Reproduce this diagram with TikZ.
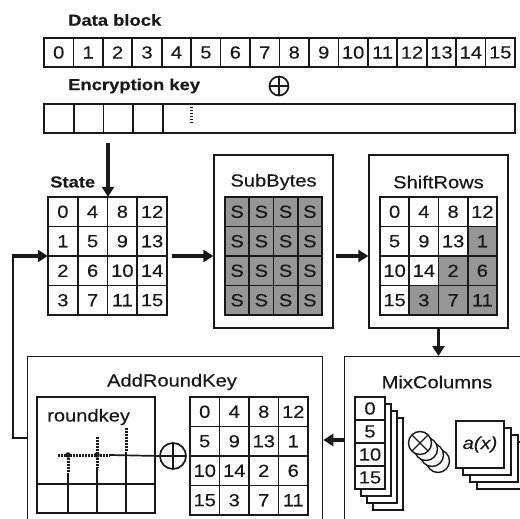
\documentclass[tikz,border=0pt]{standalone}
\usepackage{fontspec}
\setmainfont{Liberation Sans}[FakeStretch=1.15, FakeBold=0.3]
\usetikzlibrary{arrows.meta}
\definecolor{ink}{RGB}{25,25,25}
\definecolor{shade}{RGB}{150,150,150}
\begin{document}
\begin{tikzpicture}[x=1pt,y=-1pt,
  every node/.style={text=ink, font=\fontsize{17.5}{19}\selectfont, inner sep=0pt},
  cellbox/.style={draw=ink, line width=1.7pt, rectangle, anchor=center},
  greycell/.style={fill=shade},
  panel/.style={draw=ink, line width=1.3pt, rectangle, fill=white},
  area/.style={rectangle, draw=none},
  bigarrow/.style={draw=ink, line width=3.2pt, -{Triangle[length=10pt,width=12pt]}},
  thinline/.style={draw=ink, line width=1.7pt},
  dotline/.style={draw=ink, line width=3pt, dash pattern=on 1.5pt off 1.5pt},
  lab/.style={font=\fontsize{16}{18}\selectfont\bfseries, anchor=west},
  xorsym/.style={circle, draw=ink, line width=1.7pt, fill=white,
    path picture={\draw[ink, line width=1.7pt]
      (path picture bounding box.north) -- (path picture bounding box.south)
      (path picture bounding box.west) -- (path picture bounding box.east);}},
  otimessym/.style={circle, draw=ink, line width=1.4pt, fill=white,
    path picture={\draw[ink, line width=1.4pt]
      (path picture bounding box.north west) -- (path picture bounding box.south east)
      (path picture bounding box.south west) -- (path picture bounding box.north east);}},
  coin/.style={circle, draw=ink, line width=1.4pt, fill=white},
]
\useasboundingbox (0,0) rectangle (520,519);
\clip (0,0) rectangle (520,519);
\fill[white] (0,0) rectangle (520,519);

% ---- data block and key ----
\node[lab] (dbT) at (68,20) {Data block};
\foreach \i in {0,...,15} {
  \node[cellbox, minimum width=29.44pt, minimum height=29pt] (db\i) at ({58.72+29.44*\i},52.5) {\i};
}
\node[xorsym, minimum size=19pt] (xor1) at (279,86) {};
\node[lab] (keyT) at (68,86) {Encryption key};
\foreach \i in {0,...,3} {
  \node[cellbox, minimum width=29.75pt, minimum height=29pt] (kc\i) at ({58.875+29.75*\i},118.5) {};
}
\node[cellbox, minimum width=352pt, minimum height=29pt] (krest) at (339,118.5) {};
\draw[dotline] (191,107) -- (191,125);

% ---- state ----
\node[lab] (stT) at (50,182) {State};
\foreach \r in {0,...,3} \foreach \c in {0,...,3} {
  \pgfmathtruncatemacro{\v}{4*\c+\r}
  \node[cellbox, minimum width=29.75pt, minimum height=29.5pt] (st\r\c)
    at ({62.875+29.75*\c},{211.75+29.5*\r}) {\v};
}
\node[area, minimum width=119pt, minimum height=118pt] (state) at (107.5,256) {};

% ---- SubBytes ----
\node[panel, minimum width=119pt, minimum height=173pt] (sub) at (273.5,241.5) {};
\node (subT) at (273.5,182) {SubBytes};
\foreach \r in {0,...,3} \foreach \c in {0,...,3} {
  \node[cellbox, greycell, minimum width=24.25pt, minimum height=29.5pt] (sb\r\c)
    at ({237.125+24.25*\c},{211.75+29.5*\r}) {S};
}

% ---- ShiftRows ----
\node[panel, minimum width=139pt, minimum height=173pt] (shift) at (438.5,241.5) {};
\node (shT) at (438.5,182) {ShiftRows};
\foreach \r in {0,...,3} \foreach \c in {0,...,3} {
  \pgfmathtruncatemacro{\v}{4*mod(\c+\r,4)+\r}
  \ifnum\numexpr\c+\r\relax>3 \def\cf{shade}\else\def\cf{white}\fi
  \node[cellbox, fill=\cf, minimum width=29.25pt, minimum height=29.5pt] (sr\r\c)
    at ({394.625+29.25*\c},{211.75+29.5*\r}) {\v};
}

% ---- MixColumns ----
\node[panel, anchor=north west, minimum width=200pt, minimum height=200pt] (mix) at (344,356) {};
\node (mixT) at (437,382) {MixColumns};
\foreach \k in {3,2,1} {
  \node[panel, minimum width=30pt, minimum height=92pt] (colback\k) at ({370+6*\k},{443+7*\k}) {};
}
\foreach \v [count=\j from 0] in {0,5,10,15} {
  \node[cellbox, line width=1.4pt, fill=white, minimum width=30pt, minimum height=23pt] (mc\j)
    at (370,{408.5+23*\j}) {\v};
}
\foreach \k in {3,2,1} {
  \node[coin, minimum size=23pt] (coin\k) at ({420+6*\k},{443+6*\k}) {};
}
\node[otimessym, minimum size=23pt] (mult) at (420,443) {};
\foreach \k in {3,2,1} {
  \node[panel, minimum width=48pt, minimum height=47pt] (axback\k) at ({480+7*\k},{444.5+7*\k}) {};
}
\node[panel, minimum width=48pt, minimum height=47pt] (ax) at (480,444.5) {\itshape a(x)};

% ---- AddRoundKey ----
\node[panel, anchor=north west, minimum width=295pt, minimum height=200pt] (add) at (27,356) {};
\node (addT) at (172,382) {AddRoundKey};
\node[panel, line width=1.7pt, minimum width=118pt, minimum height=116pt] (rk) at (96,455) {};
\node[anchor=west] (rkT) at (47,417) {roundkey};
\node[xorsym, minimum size=26pt] (xor2) at (173,456) {};
\draw[thinline] (37,484) -- (155,484);
\draw[thinline] (68,473) -- (68,513) (97,468) -- (97,513) (126,452) -- (126,513);
\draw[thinline] (110,455) -- (xor2.west);
\draw[dotline] (58,455) -- (110,455) (68,455) -- (68,473) (97,437) -- (97,468) (126,428) -- (126,452);
\fill[ink] (68,455) circle (2.8) (97,455) circle (2.8);
\foreach \r in {0,...,3} \foreach \c in {0,...,3} {
  \pgfmathtruncatemacro{\v}{4*mod(\c+\r,4)+\r}
  \node[cellbox, minimum width=29.5pt, minimum height=29.5pt] (ak\r\c)
    at ({204.75+29.5*\c},{411.75+29.5*\r}) {\v};
}

% ---- flow arrows ----
\coordinate (keydrop) at (108,143);
\draw[bigarrow] (keydrop) -- (keydrop |- state.north);
\draw[bigarrow] ([xshift=5pt]state.east) -- (state.east -| sub.west);
\draw[bigarrow] ([xshift=2pt]state.east -| sub.east) -- (state.east -| shift.west);
\draw[bigarrow] (shift.south) -- (shift.south |- mix.north);
\coordinate (mixout) at (344,440);
\draw[bigarrow] (mixout) -- (mixout -| add.east);
\coordinate (loopbot) at (13,438);
\coordinate (looptop) at (13,256);
\draw[thinline] (loopbot -| add.west) -- (loopbot) -- (looptop);
\draw[bigarrow] ([xshift=-0.8pt]looptop) -- (state.west);
\end{tikzpicture}
\end{document}
